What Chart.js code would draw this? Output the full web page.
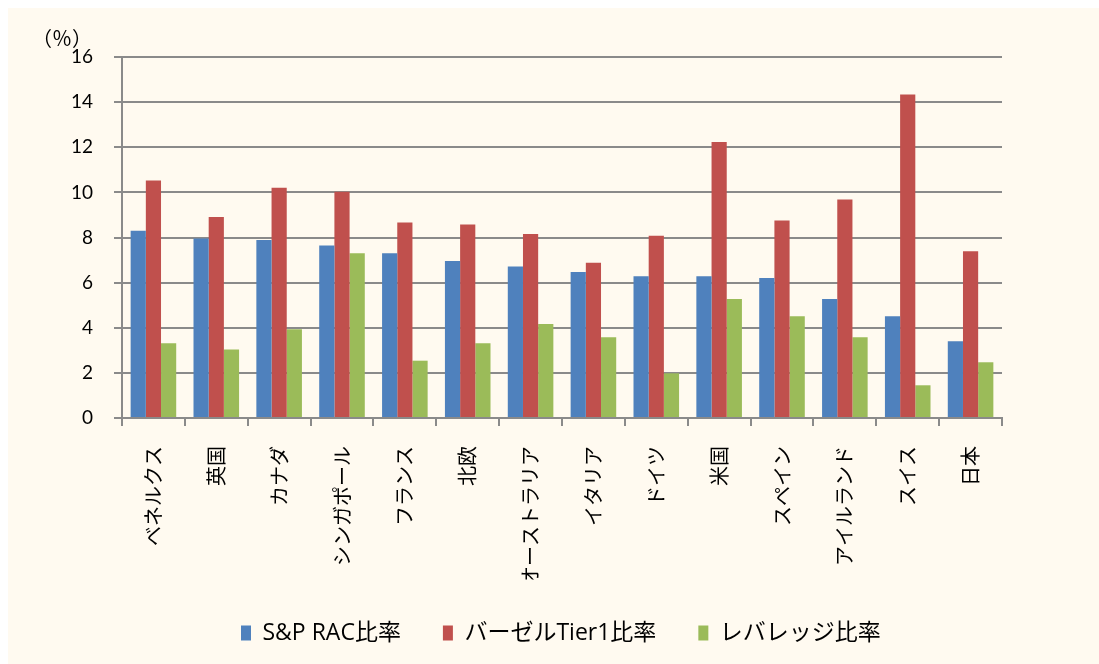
<!DOCTYPE html>
<html>
<head>
<meta charset="utf-8">
<script src="https://cdn.jsdelivr.net/npm/chart.js@4"></script>
<style>
  html, body { margin: 0; padding: 0; background: #ffffff; width: 1099px; height: 664px; overflow: hidden; }
  #wrap { position: absolute; left: 8px; top: 8px; width: 1091px; height: 656px; background: #FFFAF0; }
  canvas { display: block; }
</style>
</head>
<body>
<div id="wrap"><canvas id="c" width="1091" height="656"></canvas></div>
<script>
const categories = ['ベネルクス', '英国', 'カナダ', 'シンガポール', 'フランス', '北欧', 'オーストラリア', 'イタリア', 'ドイツ', '米国', 'スペイン', 'アイルランド', 'スイス', '日本'];
const seriesNames = ['S&P RAC比率', 'バーゼルTier1比率', 'レバレッジ比率'];
const racValues = [8.30, 7.96, 7.89, 7.64, 7.30, 6.96, 6.71, 6.47, 6.28, 6.28, 6.21, 5.27, 4.51, 3.40];
const tier1Values = [10.53, 8.91, 10.21, 10.03, 8.66, 8.58, 8.16, 6.88, 8.08, 12.23, 8.75, 9.68, 14.34, 7.39];
const leverageValues = [3.31, 3.04, 3.93, 7.30, 2.54, 3.31, 4.17, 3.58, 1.98, 5.27, 4.51, 3.58, 1.45, 2.47];
const yMin = 0, yMax = 16, yStep = 2;
const unitLabel = '（％）';

const GRID = '#8a8a8a';
const CJK = "'Noto Sans CJK JP'";

const unitPlugin = {
  id: 'unitLabel',
  afterDraw(chart) {
    const ctx = chart.ctx;
    ctx.save();
    ctx.fillStyle = '#000';
    ctx.font = "20px " + CJK;
    ctx.textAlign = 'left';
    ctx.textBaseline = 'middle';
    ctx.fillText(unitLabel, 24, 30);
    ctx.restore();
  }
};

const legendShift = {
  id: 'legendShift',
  afterLayout(chart) {
    const lg = chart.legend;
    if (!lg) return;
    const pad = lg.options.labels.padding;
    const d = 233 - (lg.left + pad);
    lg.left += d;
    lg.right += d;
  }
};

new Chart(document.getElementById('c'), {
  type: 'bar',
  data: {
    labels: categories,
    datasets: [
      { label: seriesNames[0], data: racValues, backgroundColor: '#4F81BD' },
      { label: seriesNames[1], data: tier1Values, backgroundColor: '#C0504D' },
      { label: seriesNames[2], data: leverageValues, backgroundColor: '#9BBB59' }
    ]
  },
  options: {
    responsive: false,
    devicePixelRatio: 1,
    animation: false,
    layout: { padding: { left: 0, right: 97, top: 49, bottom: 9.5 } },
    datasets: { bar: { categoryPercentage: 0.725, barPercentage: 1.0, borderWidth: 0 } },
    scales: {
      x: {
        offset: true,
        grid: { display: true, drawOnChartArea: false, drawTicks: true, tickLength: 8, color: GRID, lineWidth: 2, offset: true },
        border: { display: true, color: GRID, width: 2 },
        ticks: { color: '#000', font: { family: CJK, size: 20 }, minRotation: 90, maxRotation: 90, autoSkip: false, padding: 20 },
        afterFit(scale) { scale.height = 161.5; }
      },
      y: {
        min: yMin, max: yMax,
        grid: { color: GRID, lineWidth: 2, tickLength: 8, drawTicks: true },
        border: { display: true, color: GRID, width: 2 },
        ticks: { stepSize: yStep, color: '#000', font: { family: 'Lato', size: 19 }, padding: 21 },
        afterFit(scale) { scale.width = 114; }
      }
    },
    plugins: {
      legend: {
        position: 'bottom',
        align: 'start',
        labels: {
          boxWidth: 10, boxHeight: 15, padding: 42,
          color: '#000',
          font: { family: "'Open Sans', " + CJK, size: 23 }
        }
      },
      tooltip: { enabled: false },
      title: { display: false }
    }
  },
  plugins: [unitPlugin, legendShift]
});
</script>
</body>
</html>
